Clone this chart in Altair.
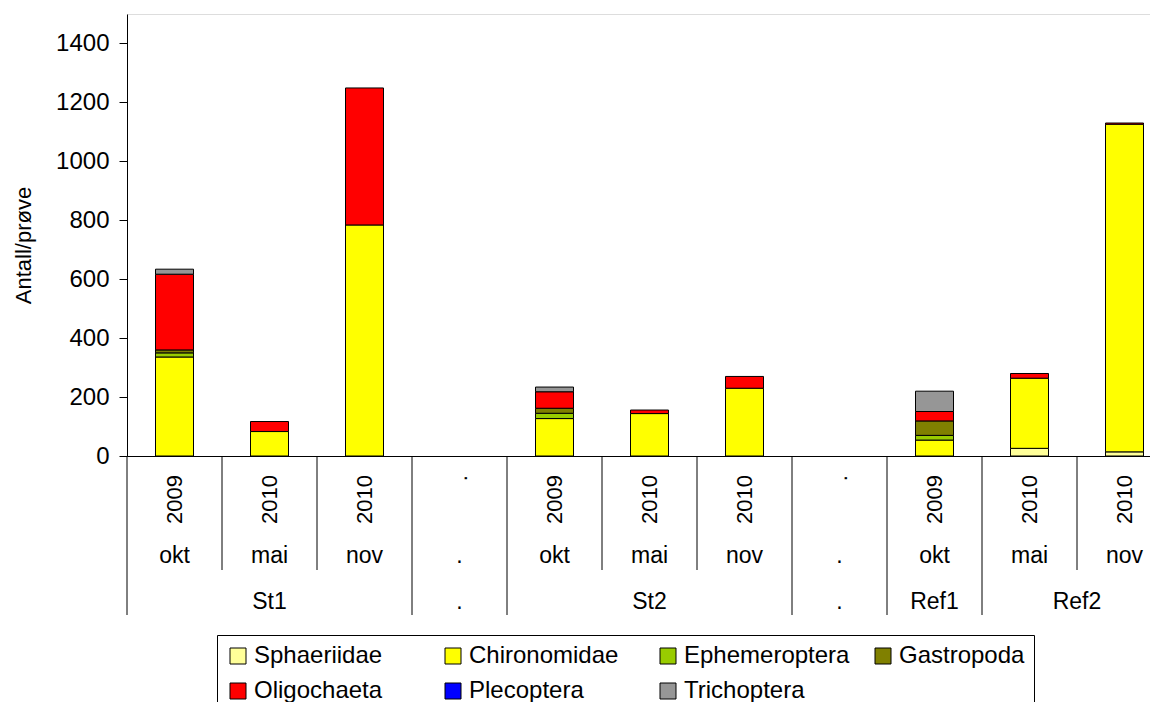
import altair as alt
import pandas as pd

categories = ["St1 okt 2009", "St1 mai 2010", "St1 nov 2010", "gap1",
              "St2 okt 2009", "St2 mai 2010", "St2 nov 2010", "gap2",
              "Ref1 okt 2009", "Ref2 mai 2010", "Ref2 nov 2010"]
years = ["2009", "2010", "2010", ".", "2009", "2010", "2010", ".", "2009", "2010", "2010"]
months = ["okt", "mai", "nov", ".", "okt", "mai", "nov", ".", "okt", "mai", "nov"]

taxa = ["Sphaeriidae", "Chironomidae", "Ephemeroptera", "Gastropoda",
        "Oligochaeta", "Plecoptera", "Trichoptera"]
colors = ["#FFFF99", "#FFFF00", "#99CC00", "#808000", "#FF0000", "#0000FF", "#969696"]

sphaeriidae = [0, 0, 0, 0, 0, 0, 0, 0, 0, 26, 14]
chironomidae = [336, 83, 784, 0, 127, 144, 230, 0, 54, 238, 1112]
ephemeroptera = [14, 0, 0, 0, 18, 0, 0, 0, 16, 0, 0]
gastropoda = [10, 0, 0, 0, 17, 0, 0, 0, 49, 0, 0]
oligochaeta = [257, 34, 465, 0, 56, 12, 40, 0, 32, 16, 4]
plecoptera = [0, 0, 0, 0, 0, 0, 0, 0, 0, 0, 0]
trichoptera = [17, 0, 0, 0, 16, 0, 0, 0, 69, 0, 0]

group_names = ["St1", ".", "St2", ".", "Ref1"]
group_cats = ["St1 mai 2010", "gap1", "St2 mai 2010", "gap2", "Ref1 okt 2009"]
ref2_name = ["Ref2"]
ref2_cat = ["Ref2 mai 2010"]

long_lines = ["St1 okt 2009", "gap1", "St2 okt 2009", "gap2", "Ref1 okt 2009", "Ref2 mai 2010"]
short_lines = ["St1 mai 2010", "St1 nov 2010", "St2 mai 2010", "St2 nov 2010", "Ref2 nov 2010"]

series = [sphaeriidae, chironomidae, ephemeroptera, gastropoda, oligochaeta, plecoptera, trichoptera]
rows = []
for ti, (taxon, vals) in enumerate(zip(taxa, series)):
    for cat, v in zip(categories, vals):
        if v > 0:
            rows.append({"cat": cat, "taxon": taxon, "value": v, "order": ti})
bars_df = pd.DataFrame(rows)
cats_df = pd.DataFrame({"cat": categories, "year": years, "month": months})
groups_df = pd.DataFrame({"cat": group_cats, "name": group_names})
ref2_df = pd.DataFrame({"cat": ref2_cat, "name": ref2_name})
long_df = pd.DataFrame({"cat": long_lines})
short_df = pd.DataFrame({"cat": short_lines})

FONT = "Liberation Sans"
H = 442

xscale = alt.Scale(domain=categories, range=[0, 1045], paddingInner=0, paddingOuter=0)
xaxis = alt.Axis(labels=False, ticks=False, domain=True, domainColor="black",
                 domainWidth=1, grid=False)


def xenc(bp=0.5):
    return alt.X("cat:N", scale=xscale, axis=xaxis, title=None, bandPosition=bp)


bars = alt.Chart(bars_df).mark_bar(size=38, stroke="black", strokeWidth=1).encode(
    x=xenc(),
    y=alt.Y("value:Q", stack="zero",
            scale=alt.Scale(domain=[0, 1500], nice=False),
            axis=alt.Axis(values=[0, 200, 400, 600, 800, 1000, 1200, 1400],
                          format="d",
                          grid=False, domainColor="black", tickColor="black",
                          tickSize=8, labelPadding=10, labelFontSize=24,
                          labelFont=FONT, labelColor="black",
                          title="Antall/prøve", titleFont=FONT, titleFontSize=22,
                          titleFontWeight="normal", titleColor="black",
                          titleAngle=270, titleAlign="center", titleBaseline="middle",
                          titleX=-104, titleY=231)),
    color=alt.Color("taxon:N", scale=alt.Scale(domain=taxa, range=colors), title=None,
                    legend=alt.Legend(orient="none", legendX=90, legendY=621,
                                      direction="horizontal", columns=4,
                                      gridAlign="all", symbolType="square",
                                      symbolSize=256, symbolStrokeColor="black",
                                      symbolStrokeWidth=1, labelFont=FONT,
                                      labelFontSize=24, labelColor="black",
                                      labelLimit=300, labelOffset=4,
                                      columnPadding=21, rowPadding=11, padding=9,
                                      strokeColor="black", fillColor="white")),
    order=alt.Order("order:Q", sort="ascending"),
)

long_rules = alt.Chart(long_df).mark_rule(color="black", strokeWidth=1).encode(
    x=xenc(0), y=alt.value(H), y2=alt.value(H + 159))
short_rules = alt.Chart(short_df).mark_rule(color="black", strokeWidth=1).encode(
    x=xenc(0), y=alt.value(H), y2=alt.value(H + 114))

year_text = alt.Chart(cats_df).mark_text(angle=270, align="right", baseline="middle",
                                          font=FONT, fontSize=22, color="black").encode(
    x=xenc(), y=alt.value(461), text="year:N")
month_text = alt.Chart(cats_df).mark_text(align="center", baseline="middle",
                                           font=FONT, fontSize=23, color="black").encode(
    x=xenc(), y=alt.value(556 - 14), text="month:N")
group_text = alt.Chart(groups_df).mark_text(align="center", baseline="middle",
                                             font=FONT, fontSize=23, color="black").encode(
    x=xenc(), y=alt.value(602 - 14), text="name:N")
ref2_text = alt.Chart(ref2_df).mark_text(align="center", baseline="middle",
                                          font=FONT, fontSize=23, color="black").encode(
    x=xenc(1), y=alt.value(602 - 14), text="name:N")

chart = alt.layer(bars, long_rules, short_rules, year_text, month_text,
                  group_text, ref2_text).properties(
    width=1023, height=H,
    padding={"left": 119, "top": 6, "right": 0, "bottom": 246},
    autosize=alt.AutoSizeParams(type="none"),
).configure_view(strokeWidth=0).configure(background="white")

chart.save("out.html", embed_options={"renderer": "svg", "actions": False})
